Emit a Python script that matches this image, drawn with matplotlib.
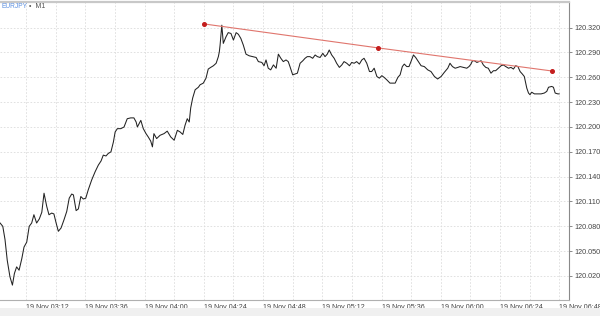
import matplotlib
matplotlib.use("Agg")
import matplotlib.pyplot as plt
from matplotlib.patches import Rectangle

plt.rcParams['font.family'] = ['Liberation Sans', 'DejaVu Sans']

# EURJPY M1 close, minutes after 03:00 on 19 Nov
minutes = [
    1.5, 2.6, 3.5, 4.4, 5.5, 6.5, 7.3, 8.2, 9.2, 10.3,
    11.2, 12.3, 13.3, 14.3, 15.2, 16.3, 17.4, 18.4, 19.3, 20.4,
    21.3, 22.4, 23.3, 24.2, 25.1, 26.2, 27.4, 28.5, 29.5, 30.5,
    31.2, 32.3, 33.2, 34.2, 35.2, 36.2, 37.2, 38.6, 40.0, 41.3,
    42.4, 43.3, 44.4, 45.3, 46.4, 47.4, 48.1, 49.0, 50.4, 51.7,
    53.0, 54.4, 55.7, 56.6, 57.1, 58.5, 59.5, 60.6, 61.5, 62.5,
    63.2, 63.8, 64.9, 66.3, 67.9, 69.2, 70.6, 72.0, 73.3, 74.4,
    75.5, 76.4, 77.3, 78.1, 78.7, 79.5, 80.5, 81.8, 82.5, 83.8,
    84.9, 85.8, 86.8, 87.9, 89.0, 89.9, 90.3, 90.6, 91.3, 91.9,
    93.0, 93.9, 95.0, 96.0, 97.1, 98.0, 99.0, 100.0, 101.1, 102.4,
    103.8, 105.2, 106.1, 107.5, 108.4, 109.2, 110.1, 111.1, 112.2, 113.3,
    114.2, 115.2, 116.2, 117.3, 118.2, 118.9, 120.0, 121.0, 121.9, 123.0,
    124.1, 125.0, 125.9, 127.0, 128.1, 129.1, 130.0, 131.1, 132.2, 133.1,
    134.0, 134.8, 135.8, 136.8, 137.8, 138.9, 139.9, 140.8, 141.9, 143.0,
    143.9, 144.9, 145.9, 147.0, 148.0, 148.9, 150.0, 151.1, 152.0, 153.0,
    154.1, 155.1, 156.1, 157.0, 158.1, 159.4, 160.1, 161.5, 162.6, 163.5,
    164.4, 165.2, 166.2, 167.1, 167.9, 168.9, 169.8, 170.9, 172.0, 173.3,
    174.7, 176.0, 177.4, 178.7, 180.1, 181.4, 182.8, 183.7, 184.7, 185.8,
    186.9, 187.8, 189.1, 190.5, 191.4, 192.2, 192.8, 193.6, 194.6, 195.5,
    196.3, 197.2, 198.2, 199.2, 200.3, 201.3, 202.2, 203.3, 204.4, 205.3,
    206.3, 207.4, 208.4, 209.4, 210.3, 211.2, 212.1, 213.0, 213.8, 214.8,
    215.5, 216.1, 216.8, 217.9, 219.3, 220.6, 221.9, 222.9, 223.6, 224.9,
    225.6, 226.3, 227.4, 227.9,
]
prices = [
    120.084, 120.080, 120.064, 120.039, 120.019, 120.009, 120.023, 120.031, 120.027, 120.041,
    120.055, 120.061, 120.080, 120.084, 120.094, 120.084, 120.089, 120.097, 120.120, 120.104,
    120.094, 120.096, 120.095, 120.084, 120.074, 120.078, 120.088, 120.098, 120.114, 120.119,
    120.118, 120.099, 120.101, 120.116, 120.113, 120.114, 120.124, 120.136, 120.146, 120.154,
    120.159, 120.166, 120.165, 120.168, 120.170, 120.182, 120.194, 120.198, 120.198, 120.200,
    120.210, 120.211, 120.211, 120.206, 120.200, 120.208, 120.198, 120.192, 120.188, 120.183,
    120.176, 120.192, 120.186, 120.190, 120.192, 120.195, 120.188, 120.184, 120.196, 120.194,
    120.191, 120.202, 120.210, 120.206, 120.223, 120.235, 120.245, 120.248, 120.251, 120.253,
    120.259, 120.270, 120.272, 120.274, 120.277, 120.285, 120.291, 120.299, 120.323, 120.301,
    120.309, 120.314, 120.313, 120.305, 120.314, 120.312, 120.307, 120.299, 120.288, 120.286,
    120.285, 120.284, 120.279, 120.278, 120.274, 120.281, 120.271, 120.269, 120.275, 120.271,
    120.288, 120.283, 120.279, 120.281, 120.279, 120.273, 120.263, 120.264, 120.265, 120.277,
    120.280, 120.283, 120.285, 120.285, 120.283, 120.287, 120.285, 120.284, 120.289, 120.285,
    120.288, 120.293, 120.287, 120.283, 120.277, 120.272, 120.275, 120.279, 120.277, 120.274,
    120.278, 120.277, 120.279, 120.276, 120.281, 120.283, 120.277, 120.267, 120.267, 120.271,
    120.261, 120.259, 120.262, 120.260, 120.257, 120.253, 120.253, 120.253, 120.260, 120.263,
    120.273, 120.276, 120.273, 120.273, 120.279, 120.287, 120.284, 120.279, 120.274, 120.273,
    120.269, 120.267, 120.261, 120.258, 120.261, 120.266, 120.271, 120.277, 120.273, 120.271,
    120.272, 120.273, 120.272, 120.271, 120.273, 120.276, 120.280, 120.280, 120.278, 120.279,
    120.280, 120.275, 120.272, 120.271, 120.265, 120.268, 120.268, 120.271, 120.274, 120.275,
    120.273, 120.271, 120.272, 120.270, 120.274, 120.273, 120.267, 120.264, 120.261, 120.247,
    120.241, 120.239, 120.242, 120.240, 120.240, 120.240, 120.241, 120.243, 120.248, 120.249,
    120.248, 120.241, 120.240, 120.240,
]

# trend line through three points
trend_minutes = [84.1, 154.7, 224.9]
trend_prices = [120.3245, 120.2955, 120.2677]

price_ticks = [120.020, 120.050, 120.080, 120.110, 120.140, 120.170,
               120.200, 120.230, 120.260, 120.290, 120.320]
time_ticks = [12, 36, 60, 84, 108, 132, 156, 180, 204, 228]
time_labels = ["19 Nov 03:12", "19 Nov 03:36", "19 Nov 04:00", "19 Nov 04:24",
               "19 Nov 04:48", "19 Nov 05:12", "19 Nov 05:36", "19 Nov 06:00",
               "19 Nov 06:24", "19 Nov 06:48"]

fig = plt.figure(figsize=(6, 3.16), dpi=100)
fig.patch.set_facecolor("white")
fig.patches.append(Rectangle((0, 0), 1, 8 / 316, transform=fig.transFigure,
                             facecolor="#f0f0f0", edgecolor="none", zorder=0))

ax = fig.add_axes([0, 1 - 300 / 316, 569 / 600, 298 / 316])
ax.set_xlim(1.47, 231.9)
ax.set_ylim(119.991, 120.351)

ax.plot(minutes, prices, color="#222222", lw=0.75, zorder=3)
ax.plot(trend_minutes, trend_prices, color="#e0756d", lw=0.8, zorder=4)
ax.plot(trend_minutes, trend_prices, ls="none", marker="o", ms=2.6,
        color="#c41e1e", zorder=5)

# grid
ax.set_yticks(price_ticks)
ax.set_yticklabels([f"{p:.3f}" for p in price_ticks])
ax.set_xticks(time_ticks)
ax.set_xticklabels(time_labels, ha="left")
ax.set_xticks(range(24, 232, 24), minor=True)
ax.grid(True, which="both", color="#dcdcdc", lw=0.6, ls=(0, (2, 2)))

ax.yaxis.tick_right()
ax.tick_params(axis="y", which="both", length=2.5, width=0.6, color="#777777",
               labelsize=5.2, labelcolor="#444444", pad=1.5)
ax.tick_params(axis="x", which="major", length=0, labelsize=5.1,
               labelcolor="#444444", pad=3)
ax.tick_params(axis="x", which="minor", length=0)

ax.spines["left"].set_visible(False)
ax.spines["right"].set_color("#8a8a8a")
ax.spines["right"].set_linewidth(0.8)
ax.spines["bottom"].set_color("#b0b0b0")
ax.spines["bottom"].set_linewidth(0.8)
ax.spines["top"].set_color("#c8c8c8")
ax.spines["top"].set_linewidth(1.6)

fig.text(1 / 600, 1 - 7 / 316, "EURJPY", color="#5b8fe0", fontsize=4.8,
         va="center", ha="left")
fig.text(29 / 600, 1 - 7 / 316, "\u2022  M1", color="#555555", fontsize=5.0,
         va="center", ha="left")

fig.savefig("out.png", dpi=100)
